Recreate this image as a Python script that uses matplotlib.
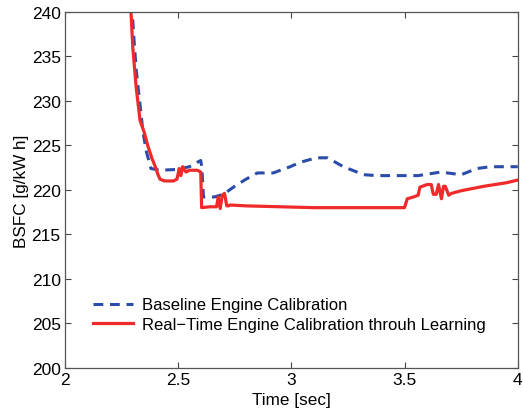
import matplotlib
matplotlib.use("Agg")
import matplotlib.pyplot as plt

plt.rcParams["font.family"] = ["Liberation Sans", "DejaVu Sans"]

# Baseline engine calibration (blue dashed)
base_t = [2.295, 2.305, 2.315, 2.330, 2.345, 2.360, 2.380, 2.420, 2.500,
          2.550, 2.600, 2.605, 2.612, 2.660, 2.700, 2.750, 2.800, 2.850,
          2.920, 2.995, 3.040, 3.110, 3.160, 3.230, 3.320, 3.380, 3.500,
          3.560, 3.660, 3.750, 3.820, 3.880, 4.000]
base_v = [241.0, 237.0, 233.5, 230.0, 226.5, 224.3, 222.4, 222.2, 222.3,
          222.6, 223.3, 222.5, 219.2, 219.2, 219.5, 220.4, 221.2, 221.9,
          221.9, 222.6, 223.1, 223.6, 223.6, 222.6, 221.7, 221.6, 221.6,
          221.6, 222.0, 221.7, 222.4, 222.6, 222.6]

# Real-time engine calibration through learning (red solid)
rt_t = [2.290, 2.300, 2.315, 2.332, 2.350, 2.367, 2.385, 2.398, 2.410,
        2.420, 2.440, 2.480, 2.495, 2.505, 2.512, 2.520, 2.535, 2.550,
        2.585, 2.600, 2.604, 2.640, 2.670, 2.677, 2.686, 2.695, 2.705,
        2.715, 2.722, 2.730, 2.800, 2.950, 3.100, 3.300, 3.500, 3.512,
        3.540, 3.560, 3.568, 3.600, 3.618, 3.627, 3.640, 3.650, 3.663,
        3.672, 3.680, 3.695, 3.707, 3.750, 3.850, 3.950, 4.000]
rt_v = [241.0, 236.0, 231.5, 227.8, 226.5, 224.9, 223.5, 222.7, 221.8,
        221.2, 221.0, 221.0, 221.2, 222.4, 221.6, 222.6, 222.0, 222.2,
        222.2, 222.0, 218.0, 218.1, 218.1, 219.2, 217.9, 219.4, 219.6,
        218.2, 218.2, 218.3, 218.2, 218.1, 218.0, 218.0, 218.0, 219.0,
        219.2, 219.4, 220.3, 220.6, 220.6, 219.5, 219.5, 220.6, 219.0,
        220.4, 220.4, 219.4, 219.6, 219.9, 220.4, 220.8, 221.1]

fig = plt.figure(figsize=(5.23, 4.14), dpi=100)
ax = fig.add_axes([0.124, 0.109, 0.866, 0.860])

ax.plot(base_t, base_v, color="#2b4ca8", linestyle=(0, (3.2, 2.2)),
        linewidth=2.2, label="Baseline Engine Calibration")
ax.plot(rt_t, rt_v, color="#f02a2a", linestyle="-", linewidth=2.3,
        label="Real\u2212Time Engine Calibration throuh Learning")

ax.set_xlim(2, 4)
ax.set_ylim(200, 240)
ax.set_xticks([2, 2.5, 3, 3.5, 4])
ax.set_xticklabels(["2", "2.5", "3", "3.5", "4"])
ax.set_yticks(range(200, 241, 5))
ax.tick_params(direction="in", top=True, right=True, labelsize=12.5,
               length=4, color="#444444", pad=3)
for s in ax.spines.values():
    s.set_color("#555555")
    s.set_linewidth(0.9)

ax.set_xlabel("Time [sec]", fontsize=12.3, labelpad=3.5)
ax.set_ylabel("BSFC [g/kW h]", fontsize=12.3, labelpad=2)

ax.legend(loc="lower left", bbox_to_anchor=(0.03, 0.06), frameon=False,
          fontsize=12, handlelength=2.4, handletextpad=0.5, labelspacing=0.25)

fig.savefig("out.png", dpi=100)
